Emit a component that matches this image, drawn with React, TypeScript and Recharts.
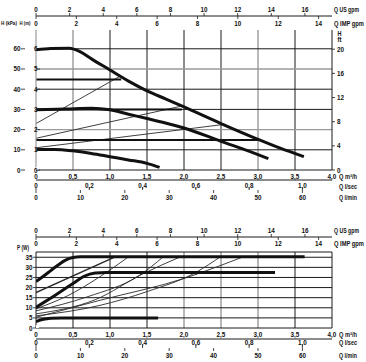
import { ComposedChart, Line, XAxis, YAxis, ReferenceLine } from 'recharts';

const font = "'Liberation Sans', Arial, sans-serif";
const ink = '#1a1a1a';
const gray = '#9a9a9a';

// flow scales, ticks in their own units
const qTicks = [0, 0.5, 1, 1.5, 2, 2.5, 3, 3.5, 4];
const qLabels = ['0', '0,5', '1,0', '1,5', '2,0', '2,5', '3,0', '3,5', '4,0'];
const lsecTicks = [0, 0.2, 0.4, 0.6, 0.8, 1.0];
const lsecLabels = ['0', '0,2', '0,4', '0,6', '0,8', '1,0'];
const lminTicks = [0, 10, 20, 30, 40, 50, 60];
const usTicks = [0, 2, 4, 6, 8, 10, 12, 14, 16];
const impTicks = [0, 2, 4, 6, 8, 10, 12, 14];
const kpaTicks = [0, 10, 20, 30, 40, 50, 60];
const mTicks = [0, 1, 2, 3, 4, 5, 6];
const ftTicks = [0, 4, 8, 12, 16, 20];
const wTicks = [0, 5, 10, 15, 20, 25, 30, 35];

// head curves, [Q m3/h, H kPa]
const curve6m: [number, number][] = [[0, 59.5], [0.2, 60.2], [0.45, 60.3], [0.6, 58.5], [0.75, 55], [1.0, 49.5], [1.25, 44], [1.5, 39.2], [1.75, 35.2], [2.0, 31.2], [2.5, 23], [3.0, 15.2], [3.3, 10.8], [3.62, 6.6]];
const curve3m: [number, number][] = [[0, 29.8], [0.4, 30.2], [0.75, 30.6], [1.0, 29.8], [1.25, 27.6], [1.5, 25.5], [1.75, 23.3], [2.0, 20.8], [2.5, 14.2], [3.0, 7.6], [3.14, 5.6]];
const curve1m: [number, number][] = [[0, 10.2], [0.25, 10.2], [0.5, 9.5], [0.75, 8.2], [1.0, 6.6], [1.25, 5], [1.5, 3.3], [1.67, 1.3]];
const cpHigh: [number, number][] = [[0, 44.8], [1.15, 44.8]];
const cpMid: [number, number][] = [[0, 30], [1.97, 30]];
const cpLow: [number, number][] = [[0, 14.9], [3.02, 14.9]];
const ppHigh: [number, number][] = [[0, 23], [1.13, 46.3]];
const ppMid: [number, number][] = [[0, 15.7], [1.95, 31.5]];
const ppLow: [number, number][] = [[0, 11], [2.55, 22.6]];

// power curves, [Q m3/h, P W]
const power6m: [number, number][] = [[0, 23], [0.1, 25.6], [0.2, 28.4], [0.3, 31.2], [0.4, 33.6], [0.5, 34.9], [0.6, 35.2], [1.0, 35.2], [2.0, 35.2], [3.63, 35.2]];
const power3m: [number, number][] = [[0, 10.2], [0.25, 16], [0.5, 22], [0.65, 25.6], [0.8, 27.2], [0.95, 27.5], [2.0, 27.5], [3.23, 27.5]];
const power1m: [number, number][] = [[0, 3.2], [0.1, 4.3], [0.2, 4.8], [0.35, 5], [1.0, 5], [1.65, 5]];
const cpHighP: [number, number][] = [[0, 17.5], [1.07, 35.2]];
const ppHighP: [number, number][] = [[0, 9.5], [0.43, 16], [0.865, 25.4], [1.25, 35.2]];
const cpMidP: [number, number][] = [[0, 8.5], [0.7, 15.5], [1.4, 26.1], [1.72, 35.2]];
const ppMidP: [number, number][] = [[0, 7], [0.8, 14], [1.45, 26.9], [1.95, 35.2]];
const cpLowP: [number, number][] = [[0, 6], [0.865, 11.2], [1.5, 18], [2.17, 27.7], [2.49, 35.2]];
const ppLowP: [number, number][] = [[0, 5.3], [0.865, 13.7], [2.0, 24.5], [2.5, 31], [2.8, 35.2]];

const Q_MAX = 4;
const US = 4.403;
const IMP = 3.666;
const KPA_MAX = 69.3;
const W_MAX = 37.6;

const pts = (a: [number, number][]) => a.map(([q, v]) => ({ q, v }));
const txt = { fontFamily: font, fontSize: 6.3, fontWeight: 700, fill: '#111' };

const lab = (ticks: number[], labels: string[] | null, v: number) => {
  if (!labels) return String(v);
  const i = ticks.findIndex((t) => Math.abs(t - v) < 1e-6);
  return i >= 0 ? labels[i] : String(v);
};

// tick on a horizontal axis: label at fixed y, optional mark
const hTick = (ticks: number[], labels: string[] | null, ty: number, mark?: [number, number]) =>
  (p: any) => (
    <g>
      {mark && <line x1={p.x} x2={p.x} y1={mark[0]} y2={mark[1]} stroke={ink} strokeWidth={0.8} />}
      <text x={p.x} y={ty} textAnchor="middle" dominantBaseline="central" {...txt}>
        {lab(ticks, labels, p.payload.value)}
      </text>
    </g>
  );

// tick on a vertical axis: label at fixed x, optional mark
const vTick = (tx: number, anchor: 'start' | 'end' | 'middle', mark?: [number, number]) =>
  (p: any) => (
    <g>
      {mark && <line x1={mark[0]} x2={mark[1]} y1={p.y} y2={p.y} stroke={ink} strokeWidth={0.8} />}
      <text x={tx} y={p.y} textAnchor={anchor} dominantBaseline="central" {...txt}>
        {p.payload.value}
      </text>
    </g>
  );

const thick = (d: [number, number][], k: string, w = 3) => (
  <Line key={k} data={pts(d)} dataKey="v" type="monotone" stroke="#111" strokeWidth={w} dot={false} isAnimationActive={false} />
);
const thin = (d: [number, number][], k: string, w = 0.9) => (
  <Line key={k} data={pts(d)} dataKey="v" type="monotone" stroke="#2a2a2a" strokeWidth={w} dot={false} isAnimationActive={false} />
);
// invisible series so that an axis with no curve of its own still draws its ticks
const anchor = (xId: string | number, yId: string | number) => (
  <Line key={'a' + xId + yId} xAxisId={xId} yAxisId={yId} data={[{ q: 0, v: 0 }]} dataKey="v" stroke="none"
    dot={false} activeDot={false} isAnimationActive={false} />
);

const grayQ = [0.5, 3];
const grayKpa = [20, 50];

function HeadChart() {
  return (
    <ComposedChart width={366} height={205} margin={{ top: 0, right: 0, bottom: 0, left: 0 }}>
      <XAxis dataKey="q" type="number" domain={[0, Q_MAX]} allowDataOverflow ticks={qTicks} interval={0} orientation="bottom" height={10}
        axisLine={false} tickLine={false} tick={hTick(qTicks, qLabels, 176.5)} />
      <XAxis xAxisId="lsec" dataKey="q" type="number" domain={[0, Q_MAX / 3.6]} allowDataOverflow ticks={lsecTicks} interval={0} orientation="bottom" height={10}
        axisLine={false} tickLine={false} tick={hTick(lsecTicks, lsecLabels, 185.5, [187.5, 190])} />
      <XAxis xAxisId="lmin" dataKey="q" type="number" domain={[0, (Q_MAX * 1000) / 60]} allowDataOverflow ticks={lminTicks} interval={0} orientation="bottom" height={15}
        axisLine={{ stroke: ink }} tickLine={false} tick={hTick(lminTicks, null, 197, [190, 193])} />
      <XAxis xAxisId="imp" dataKey="q" type="number" domain={[0, Q_MAX * IMP]} allowDataOverflow ticks={impTicks} interval={0} orientation="top" height={14}
        axisLine={false} tickLine={false} tick={hTick(impTicks, null, 23.5, [16, 19])} />
      <XAxis xAxisId="us" dataKey="q" type="number" domain={[0, Q_MAX * US]} allowDataOverflow ticks={usTicks} interval={0} orientation="top" height={16}
        axisLine={{ stroke: ink }} tickLine={false} tick={hTick(usTicks, null, 9, [13, 16])} />
      <YAxis yAxisId="m" type="number" domain={[0, KPA_MAX / 10]} allowDataOverflow ticks={mTicks} interval={0} width={11}
        axisLine={false} tickLine={false} tick={vTick(37.5, 'end', [37.5, 40])} />
      <YAxis yAxisId={0} type="number" domain={[0, KPA_MAX]} allowDataOverflow ticks={kpaTicks} interval={0} width={25}
        axisLine={{ stroke: gray, strokeWidth: 1.2 }} tickLine={false} tick={vTick(20.5, 'end', [21, 25])} />
      <YAxis yAxisId="ft" orientation="right" type="number" domain={[0, KPA_MAX / 2.989]} allowDataOverflow ticks={ftTicks} interval={0} width={34}
        axisLine={{ stroke: ink }} tickLine={false} tick={vTick(337, 'start', [332, 335])} />
      {anchor('lsec', 0)}
      {anchor('lmin', 0)}
      {anchor('imp', 0)}
      {anchor('us', 0)}
      {anchor(0, 'm')}
      {anchor(0, 'ft')}
      {qTicks.slice(1, -1).map((q) => (
        <ReferenceLine key={'v' + q} x={q} stroke={grayQ.includes(q) ? gray : ink} strokeWidth={grayQ.includes(q) ? 1.4 : 1} />
      ))}
      {kpaTicks.map((h) => (
        <ReferenceLine key={'h' + h} y={h} stroke={grayKpa.includes(h) ? gray : ink} strokeWidth={grayKpa.includes(h) ? 1.3 : 1} />
      ))}
      {thin(ppHigh, 'pp1')}
      {thin(ppMid, 'pp2')}
      {thin(ppLow, 'pp3')}
      {thick(cpHigh, 'cp1', 2)}
      {thick(cpMid, 'cp2', 2)}
      {thick(cpLow, 'cp3', 2)}
      {thick(curve6m, 'c6')}
      {thick(curve3m, 'c3')}
      {thick(curve1m, 'c1')}
    </ComposedChart>
  );
}

const grayQP = [2, 2.5, 3];

function PowerChart() {
  return (
    <ComposedChart width={366} height={157} margin={{ top: 17, right: 34, bottom: 0, left: 0 }}>
      <XAxis dataKey="q" type="number" domain={[0, Q_MAX]} allowDataOverflow ticks={qTicks} interval={0} orientation="bottom" height={11}
        axisLine={false} tickLine={false} tick={hTick(qTicks, qLabels, 129)} />
      <XAxis xAxisId="lsec" dataKey="q" type="number" domain={[0, Q_MAX / 3.6]} allowDataOverflow ticks={lsecTicks} interval={0} orientation="bottom" height={9}
        axisLine={false} tickLine={false} tick={hTick(lsecTicks, lsecLabels, 137, [139.5, 143])} />
      <XAxis xAxisId="lmin" dataKey="q" type="number" domain={[0, (Q_MAX * 1000) / 60]} allowDataOverflow ticks={lminTicks} interval={0} orientation="bottom" height={14}
        axisLine={{ stroke: ink }} tickLine={false} tick={hTick(lminTicks, null, 150, [143, 146])} />
      <XAxis xAxisId="imp" dataKey="q" type="number" domain={[0, Q_MAX * IMP]} allowDataOverflow ticks={impTicks} interval={0} orientation="top" height={15}
        axisLine={false} tickLine={false} tick={hTick(impTicks, null, 38, [32, 35])} />
      <XAxis xAxisId="us" dataKey="q" type="number" domain={[0, Q_MAX * US]} allowDataOverflow ticks={usTicks} interval={0} orientation="top" height={15}
        axisLine={{ stroke: ink }} tickLine={false} tick={hTick(usTicks, null, 25, [29, 32])} />
      <YAxis yAxisId={0} type="number" domain={[0, W_MAX]} allowDataOverflow ticks={wTicks} interval={0} width={36}
        axisLine={false} tickLine={false} tick={vTick(32.5, 'end', [33, 36])} />
      {anchor('lsec', 0)}
      {anchor('lmin', 0)}
      {anchor('imp', 0)}
      {anchor('us', 0)}
      {qTicks.map((q) => (
        <ReferenceLine key={'v' + q} x={q} stroke={grayQP.includes(q) ? gray : ink} strokeWidth={grayQP.includes(q) ? 1.4 : 1} />
      ))}
      {wTicks.map((w) => (
        <ReferenceLine key={'h' + w} y={w} stroke={ink} strokeWidth={1} />
      ))}
      <ReferenceLine y={W_MAX} stroke={ink} strokeWidth={1} />
      {thin(ppHighP, 'p1')}
      {thin(cpMidP, 'p2')}
      {thin(ppMidP, 'p3')}
      {thin(cpLowP, 'p4')}
      {thin(ppLowP, 'p5')}
      {thin(cpHighP, 'p0', 1.5)}
      {thick(power6m, 'w6')}
      {thick(power3m, 'w3')}
      {thick(power1m, 'w1')}
    </ComposedChart>
  );
}

// [text, x, y, width, font size]
const unitLabels: [string, number, number, number, number][] = [
  ['Q US gpm', 334, 9, 25, 6.3], ['Q IMP gpm', 334, 23, 30, 6.3], ['H', 337.5, 33, 4, 6.3], ['ft', 337.5, 39.5, 4, 6.3],
  ['Q m³/h', 339, 176.5, 18, 6.3], ['Q l/sec', 339, 186, 18, 6.3], ['Q l/min', 339, 197, 18, 6.3],
  ['H (kPa)', 1, 23, 16, 4.8], ['H (m)', 19.5, 23, 11, 4.8],
  ['Q US gpm', 334, 230, 25, 6.3], ['Q IMP gpm', 334, 243, 30, 6.3], ['P (W)', 17, 247, 12, 6.3],
  ['Q m³/h', 339, 334, 18, 6.3], ['Q l/sec', 339, 342, 18, 6.3], ['Q l/min', 339, 355, 18, 6.3],
];

export default function App() {
  return (
    <div style={{ position: 'absolute', left: 0, top: 0, width: 366, height: 362, background: '#fff' }}>
      <div style={{ position: 'absolute', left: 0, top: 0 }}>
        <HeadChart />
      </div>
      <div style={{ position: 'absolute', left: 0, top: 205 }}>
        <PowerChart />
      </div>
      <svg width={366} height={362} style={{ position: 'absolute', left: 0, top: 0, pointerEvents: 'none' }}>
        {unitLabels.map(([t, x, y, w, fs], i) => (
          <text key={i} x={x} y={y} dominantBaseline="central" textLength={w} lengthAdjust="spacingAndGlyphs" {...txt} fontSize={fs}>{t}</text>
        ))}
      </svg>
    </div>
  );
}
